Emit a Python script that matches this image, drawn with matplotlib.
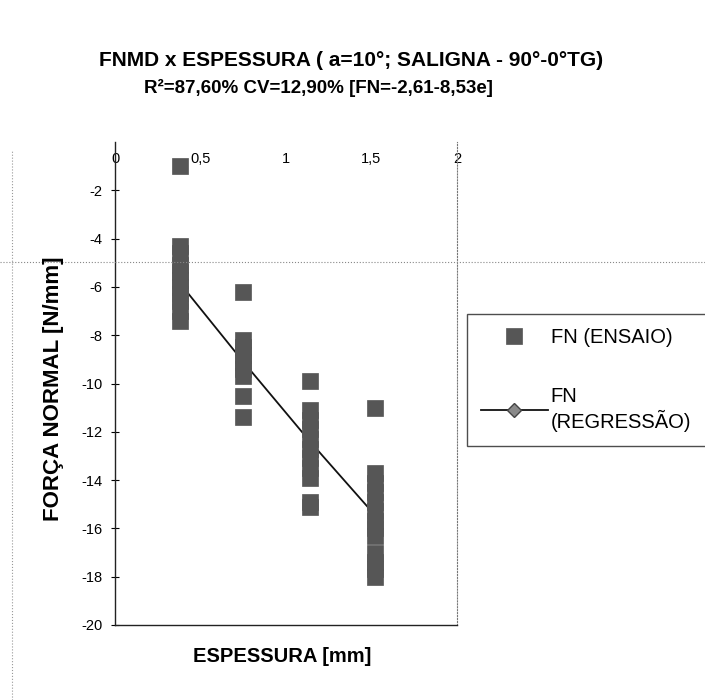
import matplotlib
matplotlib.use("Agg")
import matplotlib.pyplot as plt
from matplotlib.lines import Line2D

plt.rcParams["font.family"] = ["Liberation Sans", "DejaVu Sans"]
plt.rcParams["axes.unicode_minus"] = False

TITLE_1 = "FNMD x ESPESSURA ( a=10°; SALIGNA - 90°-0°TG)"
TITLE_2 = "R²=87,60% CV=12,90% [FN=-2,61-8,53e]"

# espessura de corte [mm] de cada grupo de ensaios
ESPESSURA = [0.38, 0.75, 1.14, 1.52]

# forca normal medida [N/mm], um grupo por espessura
FN_ENSAIO = [
    [-1.0, -4.3, -4.6, -5.1, -5.4, -5.7, -6.0, -6.3, -6.6, -7.0, -7.4],
    [-6.2, -8.2, -8.5, -8.8, -9.1, -9.4, -9.7, -10.5, -11.4],
    [-9.9, -11.1, -11.5, -11.9, -12.3, -12.7, -13.1, -13.5, -13.9, -14.9, -15.1],
    [-11.0, -13.7, -14.1, -14.5, -14.9, -15.3, -15.7, -16.0, -16.3,
     -17.0, -17.4, -17.7, -18.0],
]

# reta de regressao nos mesmos pontos
FN_REGRESSAO = [-5.85, -9.10, -12.40, -15.45]

X_TICKS = [0, 0.5, 1, 1.5, 2]
X_LABELS = ["0", "0,5", "1", "1,5", "2"]
Y_TICKS = [-2, -4, -6, -8, -10, -12, -14, -16, -18, -20]
Y_LABELS = [str(v) for v in Y_TICKS]

W, H = 705, 700
fig = plt.figure(figsize=(W / 100, H / 100), dpi=100)
fig.patch.set_facecolor("white")

# area do grafico (pixels da referencia)
left, right, top, bottom = 115, 457, 142, 625
ax = fig.add_axes([left / W, 1 - bottom / H, (right - left) / W, (bottom - top) / H])

xs = [e for e, grp in zip(ESPESSURA, FN_ENSAIO) for _ in grp]
ys = [v for grp in FN_ENSAIO for v in grp]
ensaio, = ax.plot(xs, ys, ls="none", marker="s", ms=11,
                  mfc="#565656", mec="#565656", mew=0.5, zorder=3)
regressao, = ax.plot(ESPESSURA, FN_REGRESSAO, color="#111111", lw=1.3,
                     marker="D", ms=7, mfc="#8a8a8a", mec="#444444", zorder=2)

ax.set_xlim(0, 2)
ax.set_ylim(-20, 0)

for side in ("left", "bottom"):
    ax.spines[side].set_color("#222222")
    ax.spines[side].set_linewidth(1.0)
ax.spines["right"].set_color("#777777")
ax.spines["right"].set_linestyle(":")
ax.spines["top"].set_visible(False)

ax.set_xticks(X_TICKS)
ax.set_xticklabels(X_LABELS)
ax.tick_params(axis="x", bottom=False, labelbottom=False, top=False,
               labeltop=True, pad=-21, labelsize=10.5)
ax.set_yticks(Y_TICKS)
ax.set_yticklabels(Y_LABELS)
ax.tick_params(axis="y", direction="inout", length=6, width=0.8,
               labelsize=10.5, pad=6)

fig.text(351 / W, 1 - 60 / H, TITLE_1, ha="center", va="center",
         fontsize=15, fontweight="bold")
fig.text(318 / W, 1 - 88 / H, TITLE_2, ha="center", va="center",
         fontsize=13.5, fontweight="bold")
fig.text(282 / W, 1 - 656 / H, "ESPESSURA [mm]", ha="center", va="center",
         fontsize=14.5, fontweight="bold")
fig.text(54 / W, 1 - 389 / H, "FORÇA NORMAL [N/mm]", ha="center", va="center",
         rotation=90, fontsize=16, fontweight="bold")

# legenda: caixa sai pela borda direita, como na figura original
leg = fig.legend([ensaio, regressao], ["FN (ENSAIO)", "FN\n(REGRESSÃO)"],
                 loc="upper left", mode="expand",
                 bbox_to_anchor=(467 / W, 1 - 452 / H, 270 / W, 138 / H),
                 fontsize=14.5, frameon=True, fancybox=False, edgecolor="#222222",
                 borderpad=0.7, labelspacing=2.0, handlelength=3.3,
                 handletextpad=0.15, borderaxespad=0)
leg.get_frame().set_linewidth(1.0)

# marcas de digitalizacao da pagina original
fig.add_artist(Line2D([0, 1], [1 - 262 / H] * 2, transform=fig.transFigure,
                      color="#888888", lw=0.8, ls=":"))
fig.add_artist(Line2D([12 / W] * 2, [0, 1 - 150 / H], transform=fig.transFigure,
                      color="#999999", lw=0.8, ls=":"))

fig.savefig("out.png", dpi=100)
